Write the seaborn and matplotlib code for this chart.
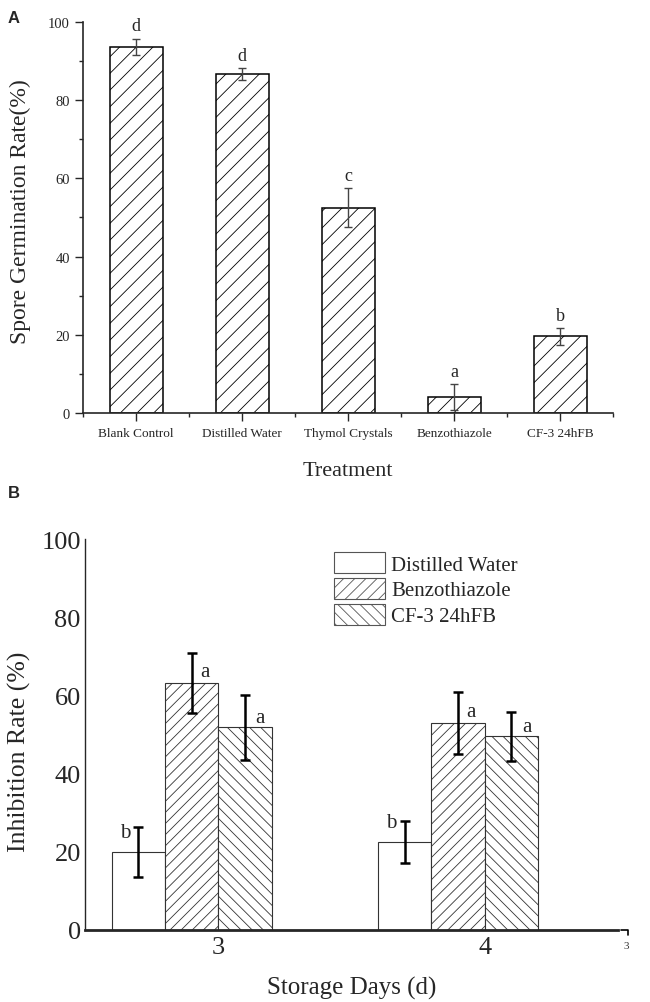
import matplotlib
matplotlib.use("Agg")
import matplotlib.pyplot as plt
import seaborn as sns
import pandas as pd
import numpy as np
from matplotlib.patches import Patch
from matplotlib.ticker import MultipleLocator, FixedLocator

# Panel A data
treatments = ["Blank Control", "Distilled Water", "Thymol Crystals", "Benzothiazole", "CF-3 24hFB"]
germination = [93.6, 86.7, 52.5, 4.1, 19.6]
germination_sd = [2.1, 1.5, 4.9, 3.3, 2.1]
letters_a = ["d", "d", "c", "a", "b"]

# Panel B data
days = ["3", "4"]
series_b = ["Distilled Water", "Benzothiazole", "CF-3 24hFB"]
inhibition = {
    "Distilled Water": [20.0, 22.6],
    "Benzothiazole": [63.2, 52.9],
    "CF-3 24hFB": [51.8, 49.5],
}
inhibition_sd = {
    "Distilled Water": [6.4, 5.4],
    "Benzothiazole": [7.7, 8.0],
    "CF-3 24hFB": [8.4, 6.3],
}
letters_b = {
    "Distilled Water": ["b", "b"],
    "Benzothiazole": ["a", "a"],
    "CF-3 24hFB": ["a", "a"],
}

sns.set_style("ticks")
plt.rcParams["font.family"] = ["Liberation Serif", "DejaVu Serif"]
plt.rcParams["hatch.linewidth"] = 0.6
plt.rcParams["axes.linewidth"] = 1.0

fig = plt.figure(figsize=(6.5, 10.03), dpi=100)

# ---------------- Panel A ----------------
ax1 = fig.add_axes([0.1277, 0.5872, 0.8154, 0.3901])
df_a = pd.DataFrame({"Treatment": treatments, "Rate": germination})
sns.barplot(data=df_a, x="Treatment", y="Rate", color="white", edgecolor="black",
            linewidth=1.1, width=0.5, errorbar=None, ax=ax1, order=treatments)
for p in ax1.patches:
    p.set_hatch("//")
    p.set_facecolor("white")
centers = [p.get_x() + p.get_width() / 2 for p in ax1.patches]
ax1.errorbar(centers, germination, yerr=germination_sd, fmt="none", ecolor="#444444",
             elinewidth=1.0, capsize=3.2, capthick=1.0, zorder=5)
for c, v, s, l in zip(centers, germination, germination_sd, letters_a):
    ax1.annotate(l, xy=(c, v + s), xytext=(0, 6), textcoords="offset points",
                 ha="center", va="baseline", fontsize=13)

ax1.set_ylim(0, 100)
ax1.set_xlim(-0.5, 4.5)
ax1.yaxis.set_major_locator(MultipleLocator(20))
ax1.yaxis.set_minor_locator(MultipleLocator(10))
ax1.xaxis.set_minor_locator(FixedLocator(np.arange(-0.5, 5, 1.0)))
ax1.tick_params(axis="y", which="major", length=6, width=1, labelsize=10.5, pad=3.3)
ax1.tick_params(axis="y", which="minor", length=3, width=1)
ax1.tick_params(axis="x", which="major", length=6, width=1, labelsize=9.5, pad=4)
ax1.tick_params(axis="x", which="minor", length=3, width=1)
sns.despine(ax=ax1)
ax1.spines["left"].set_linewidth(1.2)
ax1.spines["bottom"].set_linewidth(1.2)
ax1.set_ylabel("Spore Germination Rate(%)", fontsize=17)
ax1.set_xlabel("Treatment", fontsize=16)
ax1.yaxis.set_label_coords(-0.098, 0.517)
ax1.xaxis.set_label_coords(0.5, -0.123)

# ---------------- Panel B ----------------
ax2 = fig.add_axes([0.1308, 0.0718, 0.82, 0.3898])
rows = []
for s in series_b:
    for d, v in zip(days, inhibition[s]):
        rows.append({"Day": d, "Series": s, "Rate": v})
df_b = pd.DataFrame(rows)
# a fourth, empty hue level keeps the slot layout of the original grouped bars
hue_levels = series_b + ["_empty"]
pal = {k: "white" for k in hue_levels}
sns.barplot(data=df_b, x="Day", y="Rate", hue="Series", hue_order=hue_levels,
            order=days, palette=pal, edgecolor="#333333", linewidth=0.8,
            width=0.8, errorbar=None, legend=False, ax=ax2)

hatches = {"Distilled Water": "", "Benzothiazole": "///", "CF-3 24hFB": "\\\\\\"}
offsets = {"Distilled Water": (-9.5, 14), "Benzothiazole": (9.5, 8.5),
           "CF-3 24hFB": (11, 7.5)}
for lab, cont in zip(series_b, ax2.containers):
    xs = []
    for p in cont.patches:
        p.set_hatch(hatches[lab])
        xs.append(p.get_x() + p.get_width() / 2)
    ax2.errorbar(xs, inhibition[lab], yerr=inhibition_sd[lab], fmt="none",
                 ecolor="black", elinewidth=1.8, capsize=3.6, capthick=1.8, zorder=5)
    for x, v, l in zip(xs, inhibition[lab], letters_b[lab]):
        ax2.annotate(l, xy=(x, v), xytext=offsets[lab], textcoords="offset points",
                     ha="center", va="center", fontsize=15)

ax2.set_xlim(-0.5, 1.5)
ax2.set_ylim(0, 100)
ax2.yaxis.set_major_locator(MultipleLocator(20))
ax2.tick_params(axis="y", length=0, labelsize=19, pad=3)
ax2.tick_params(axis="x", length=0, labelsize=19, pad=4)
sns.despine(ax=ax2)
ax2.spines["bottom"].set_linewidth(2)
ax2.spines["left"].set_linewidth(1)
ax2.set_ylabel("Inhibition Rate (%)", fontsize=18.5)
ax2.set_xlabel("Storage Days (d)", fontsize=18)
ax2.yaxis.set_label_coords(-0.101, 0.458)
ax2.xaxis.set_label_coords(0.5, -0.118)

handles = [Patch(facecolor="white", edgecolor="#555555", linewidth=0.8, hatch=hatches[s], label=s)
           for s in series_b]
ax2.legend(handles=handles, loc="upper left", bbox_to_anchor=(0.467, 0.967),
           frameon=False, fontsize=15, handlelength=2.45, handleheight=1.2,
           labelspacing=0.15, handletextpad=0.3, borderpad=0, borderaxespad=0)

# cropped remnant at right edge of panel B
ax2.plot([1.006, 1.019, 1.019], [0, 0, -0.013], transform=ax2.transAxes,
         color="black", lw=1.2, clip_on=False)
ax2.text(1.015, -0.04, "3", transform=ax2.transAxes, fontsize=8, ha="center",
         va="center", color="#333333")

fig.text(0.012, 0.982, "A", fontsize=12, fontweight="bold",
         family=["Liberation Sans", "DejaVu Sans"], va="center")
fig.text(0.012, 0.508, "B", fontsize=12, fontweight="bold",
         family=["Liberation Sans", "DejaVu Sans"], va="center")

fig.savefig("out.png", dpi=100)
